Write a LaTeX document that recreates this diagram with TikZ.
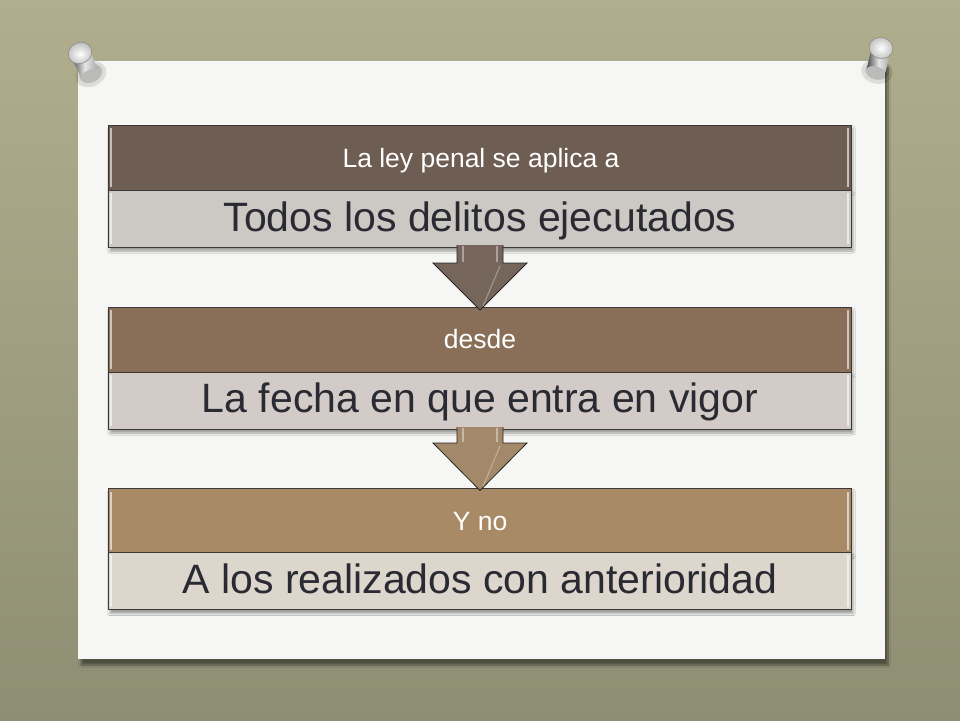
\documentclass[tikz,border=0pt]{standalone}
\usepackage{fontspec}
\setmainfont{Liberation Sans}
\usetikzlibrary{shadows.blur,calc}
\definecolor{bgtop}{HTML}{B0AE8D}
\definecolor{bgbot}{HTML}{8E8E74}
\definecolor{slide}{HTML}{F6F6F4}
\definecolor{darkA}{HTML}{6E5D52}
\definecolor{lightA}{HTML}{CCC8C4}
\definecolor{darkB}{HTML}{8A6F58}
\definecolor{lightB}{HTML}{D3CBC7}
\definecolor{darkC}{HTML}{A88B66}
\definecolor{lightC}{HTML}{DDD6CC}
\definecolor{arrA}{HTML}{76655B}
\definecolor{arrB}{HTML}{A38869}
\definecolor{bigtxt}{HTML}{2A2A33}
\definecolor{edge}{HTML}{3C3836}
\tikzset{
  band/.style={draw=edge, line width=0.9pt, minimum width=743pt, inner sep=0pt, outer sep=0pt},
  topband/.style={band, minimum height=65pt},
  lowband/.style={band, minimum height=57pt},
  smalltxt/.style={anchor=base, text=white, inner sep=0pt, font=\fontsize{26.5}{30}\selectfont},
  bigt/.style={anchor=base, text=bigtxt, inner sep=0pt, font=\fontsize{41}{48}\selectfont},
  downarrow/.style={draw=black!85, line width=0.8pt, line join=miter},
  gloss/.style={white, opacity=0.6, line width=1.5pt},
  pinbody/.style={left color=black!70, right color=black!35, middle color=white!90!black},
}
\newcommand{\drawpin}[3]{%
  \begin{scope}[shift={(#1,#2)}, rotate=#3]
    \fill[black, opacity=0.10] (1,24) ellipse (16 and 12);
    \fill[black, opacity=0.15] (1,23) ellipse (12 and 9);
    \shade[pinbody] (-9.5,0) -- (-9.5,23) arc[start angle=180, end angle=360, x radius=9.5, y radius=4] -- (9.5,0) -- cycle;
    \fill[black!55] (-9.5,0) -- (9.5,0) -- (9.5,5) -- (-9.5,5) -- cycle;
    \shade[inner color=white, outer color=black!25] (0,0) ellipse (12 and 10.5);
    \draw[black!45, line width=0.6pt] (0,0) ellipse (12 and 10.5);
  \end{scope}}
\begin{document}
\begin{tikzpicture}[x=1pt,y=-1pt]
\useasboundingbox (0,0) rectangle (960,720);
% background
\shade[top color=bgtop, bottom color=bgbot] (0,0) rectangle (960,720);
% slide
\fill[slide, blur shadow={shadow xshift=3pt, shadow yshift=-6pt, shadow blur steps=10, shadow opacity=45}] (78,61) rectangle (885,659);

% ---------- block 1
\node[topband, fill=darkA, blur shadow={shadow yshift=-3pt, shadow xshift=2pt, shadow opacity=30}] (d1) at (479.5,157.5) {};
\node[lowband, fill=lightA, blur shadow={shadow yshift=-4pt, shadow xshift=2pt, shadow opacity=35}] (l1) at (479.5,218.5) {};
\draw[gloss] (111,128) -- (111,187) (848,128) -- (848,187);
\draw[gloss] (111,193) -- (111,244) (848,193) -- (848,244);
\node[smalltxt] (s1) at (481,167) {La ley penal se aplica a};
\node[bigt] (t1) at (480,231) {Todos los delitos ejecutados};

% ---------- block 2
\node[topband, fill=darkB, blur shadow={shadow yshift=-3pt, shadow xshift=2pt, shadow opacity=30}] (d2) at (479.5,339.5) {};
\node[lowband, fill=lightB, blur shadow={shadow yshift=-4pt, shadow xshift=2pt, shadow opacity=35}] (l2) at (479.5,400.5) {};
\draw[gloss] (111,310) -- (111,369) (848,310) -- (848,369);
\draw[gloss] (111,375) -- (111,426) (848,375) -- (848,426);
\node[smalltxt] (s2) at (480,348) {desde};
\node[bigt] (t2) at (480,412) {La fecha en que entra en vigor};

% ---------- block 3
\node[topband, fill=darkC, blur shadow={shadow yshift=-3pt, shadow xshift=2pt, shadow opacity=30}] (d3) at (479.5,521) {};
\node[lowband, fill=lightC, blur shadow={shadow yshift=-4pt, shadow xshift=2pt, shadow opacity=35}] (l3) at (479.5,581) {};
\draw[gloss] (111,492) -- (111,550) (848,492) -- (848,550);
\draw[gloss] (111,555) -- (111,607) (848,555) -- (848,607);
\node[smalltxt] (s3) at (480,530) {Y no};
\node[bigt] (t3) at (480,593) {A los realizados con anterioridad};

% ---------- arrows
\coordinate (a1top) at ($(l1.south)+(0.5,-2)$);
\coordinate (a1tip) at ($(d2.north)+(0.5,3)$);
\draw[downarrow, fill=arrA]
  ($(a1top)+(-23,0)$) -- ($(a1top)+(-23,18)$) -- ($(a1top)+(-47,18)$) -- (a1tip)
  -- ($(a1top)+(47,18)$) -- ($(a1top)+(23,18)$) -- ($(a1top)+(23,0)$);
\draw[white, opacity=0.4, line width=1.5pt] ($(a1top)+(-17,1)$) -- ($(a1top)+(-17,17)$) ($(a1top)+(17,1)$) -- ($(a1top)+(17,17)$);
\draw[white, opacity=0.3, line width=1.2pt] ($(a1top)+(20,21)$) -- ($(a1tip)+(3,-4)$);

\coordinate (a2top) at ($(l2.south)+(0.5,-2)$);
\coordinate (a2tip) at ($(d3.north)+(0.5,2)$);
\draw[downarrow, fill=arrB]
  ($(a2top)+(-23,0)$) -- ($(a2top)+(-23,16)$) -- ($(a2top)+(-47,16)$) -- (a2tip)
  -- ($(a2top)+(47,16)$) -- ($(a2top)+(23,16)$) -- ($(a2top)+(23,0)$);
\draw[white, opacity=0.4, line width=1.5pt] ($(a2top)+(-17,1)$) -- ($(a2top)+(-17,15)$) ($(a2top)+(17,1)$) -- ($(a2top)+(17,15)$);
\draw[white, opacity=0.3, line width=1.2pt] ($(a2top)+(20,19)$) -- ($(a2tip)+(3,-4)$);

% ---------- pins
\drawpin{80}{53}{25}
\drawpin{881}{48}{-12}
\end{tikzpicture}
\end{document}
